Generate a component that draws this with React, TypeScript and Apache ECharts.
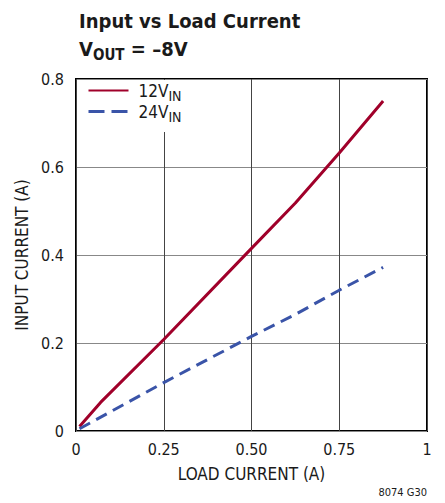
import React, { useEffect, useRef } from "react";
import * as echarts from "echarts";

const loadCurrent12 = [0.01, 0.07, 0.25, 0.5, 0.625, 0.75, 0.875];
const inputCurrent12 = [0.01, 0.065, 0.208, 0.415, 0.518, 0.632, 0.75];
const loadCurrent24 = [0.01, 0.25, 0.5, 0.625, 0.75, 0.875];
const inputCurrent24 = [0.005, 0.11, 0.215, 0.265, 0.32, 0.372];

const FONT = "'DejaVu Sans Condensed', 'Roboto', sans-serif";
const TEXT = "#1a1a1a";

export default function App() {
  const ref = useRef<HTMLDivElement>(null);
  useEffect(() => {
    if (!ref.current) return;
    const chart = echarts.init(ref.current, null, { renderer: "svg" });
    chart.setOption({
      animation: false,
      backgroundColor: "#fff",
      title: {
        left: 74,
        top: 2,
        text: "{a|Input vs Load Current}\n{a|V}{s|OUT}{a| = –8V}",
        textStyle: {
          rich: {
            a: { fontFamily: FONT, fontWeight: "bold", fontSize: 20, color: TEXT, lineHeight: 28 },
            s: { fontFamily: FONT, fontWeight: "bold", fontSize: 15, color: TEXT, lineHeight: 28, padding: [12, 0, 0, 0] },
          },
        },
      },
      legend: {
        orient: "vertical",
        left: 77,
        top: 80,
        padding: [2, 24, 8, 10],
        itemWidth: 40,
        itemHeight: 14,
        itemGap: 0,
        backgroundColor: "#fff",
        itemStyle: { opacity: 0 },
        data: [
          { name: "12V" },
          { name: "24V", lineStyle: { type: [16, 7], width: 3 } },
        ],
        formatter: (name: string) => name + "{s|IN}",
        textStyle: {
          fontFamily: FONT,
          fontSize: 17,
          color: TEXT,
          padding: [0, 0, 0, 5],
          rich: {
            s: { fontFamily: FONT, fontSize: 14, color: TEXT, padding: [11, 0, 0, 0] },
          },
        },
      },
      grid: {
        left: 76,
        right: 18,
        top: 79,
        bottom: 72,
        show: true,
        borderColor: "#000",
        borderWidth: 2,
        backgroundColor: "transparent",
      },
      xAxis: {
        type: "value",
        min: 0,
        max: 1,
        interval: 0.25,
        name: "LOAD CURRENT (A)",
        nameLocation: "middle",
        nameGap: 34,
        nameTextStyle: { fontFamily: FONT, fontSize: 17, color: TEXT },
        axisLine: { show: false },
        axisTick: { show: false },
        axisLabel: {
          fontFamily: FONT,
          fontSize: 16,
          color: TEXT,
          margin: 10,
          formatter: (v: number) => (v === 0 ? "0" : v === 1 ? "1" : v.toFixed(2)),
        },
        splitLine: { show: true, lineStyle: { color: "#444", width: 1 } },
      },
      yAxis: {
        type: "value",
        min: 0,
        max: 0.8,
        interval: 0.2,
        name: "INPUT CURRENT (A)",
        nameLocation: "middle",
        nameGap: 43,
        nameTextStyle: { fontFamily: FONT, fontSize: 17, color: TEXT },
        axisLine: { show: false },
        axisTick: { show: false },
        axisLabel: {
          fontFamily: FONT,
          fontSize: 16,
          color: TEXT,
          margin: 12,
          formatter: (v: number) => (v === 0 ? "0" : v.toFixed(1)),
        },
        splitLine: { show: true, lineStyle: { color: "#888", width: 1 } },
      },
      series: [
        {
          name: "12V",
          type: "line",
          data: loadCurrent12.map((x, i) => [x, inputCurrent12[i]]),
          showSymbol: false,
          symbol: "none",
          lineStyle: { color: "#a0002a", width: 3 },
          itemStyle: { color: "#a0002a" },
        },
        {
          name: "24V",
          type: "line",
          data: loadCurrent24.map((x, i) => [x, inputCurrent24[i]]),
          showSymbol: false,
          symbol: "none",
          lineStyle: { color: "#3a54a8", width: 3, type: [12, 7] },
          itemStyle: { color: "#3a54a8" },
        },
      ],
      graphic: [
        {
          type: "text",
          right: 18,
          top: 487,
          style: { text: "8074 G30", fontFamily: FONT, fontSize: 11, fill: TEXT },
        },
      ],
    });
    return () => chart.dispose();
  }, []);
  return <div ref={ref} style={{ width: 445, height: 503, position: "absolute", left: 0, top: 0 }} />;
}
